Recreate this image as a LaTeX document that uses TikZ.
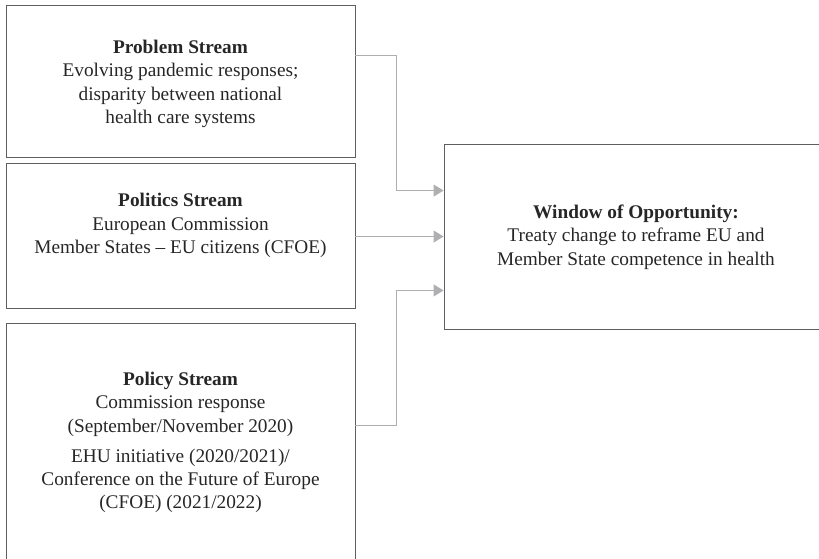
\documentclass[tikz,border=0pt]{standalone}
\usepackage{fontspec}
\setmainfont{Liberation Serif}
\usetikzlibrary{arrows.meta}

\definecolor{boxline}{RGB}{95,95,95}
\definecolor{connline}{RGB}{175,175,178}

\tikzset{
	streambox/.style={draw=boxline, line width=0.9pt, minimum width=349pt, inner sep=0pt},
	windowbox/.style={draw=boxline, line width=0.9pt, minimum width=380pt, minimum height=185pt, inner sep=0pt},
	streamtext/.style={align=center, font=\fontsize{19.3}{23.3}\selectfont, text=black!85},
	conn/.style={draw=connline, line width=0.9pt, -{Triangle[length=10pt,width=12pt,fill=connline]}},
}

\begin{document}
\begin{tikzpicture}[x=1pt, y=-1pt]
	\clip (0,0) rectangle (819,558);

	% boxes
	\node[streambox, minimum height=152pt] (prob) at (180.5,81) {};
	\node[streambox, minimum height=145pt] (pol)  at (180.5,235.5) {};
	\node[streambox, minimum height=260pt] (pcy)  at (180.5,453) {};
	\node[windowbox] (win) at (634,236.5) {};

	% texts
	\node[streamtext] (probt) at (180.5,84) {\textbf{Problem Stream}\\Evolving pandemic responses;\\disparity between national\\health care systems};
	\node[streamtext] (polt) at (180.5,225.5) {\textbf{Politics Stream}\\European Commission\\Member States -- EU citizens (CFOE)};
	\node[streamtext] (pcyt) at (180.5,442.5) {\textbf{Policy Stream}\\Commission response\\(September/November 2020)\\[7pt]EHU initiative (2020/2021)/\\Conference on the Future of Europe\\(CFOE) (2021/2022)};
	\node[streamtext] (wint) at (636,237) {\textbf{Window of Opportunity:}\\Treaty change to reframe EU and\\Member State competence in health};

	% connectors
	\draw[conn] ([yshift=-51pt]prob.north east) -- ++(41,0) |- ([yshift=-47pt]win.north west);
	\draw[conn] (win.west -| pol.east) -- (win.west);
	\draw[conn] ([yshift=-103pt]pcy.north east) -- ++(41,0) |- ([yshift=39pt]win.south west);
\end{tikzpicture}
\end{document}
